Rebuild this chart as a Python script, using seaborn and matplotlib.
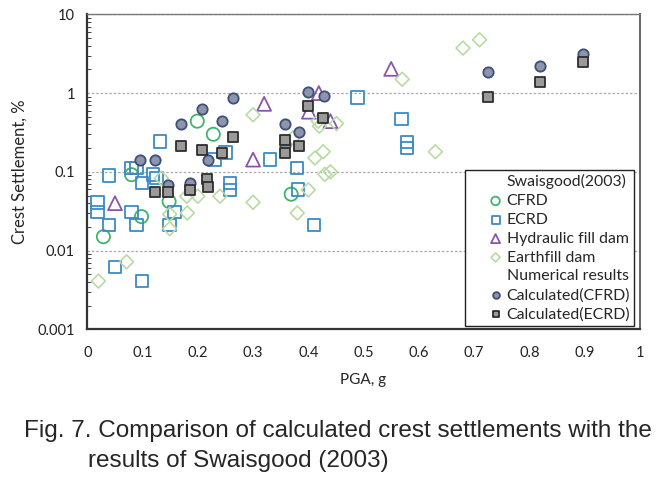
import numpy as np
import pandas as pd
import matplotlib
matplotlib.use("Agg")
import matplotlib.pyplot as plt
import seaborn as sns
from matplotlib.lines import Line2D

# Swaisgood (2003) case histories: PGA (g) vs crest settlement (%)
cfrd_pga = [0.029, 0.080, 0.098, 0.148, 0.199, 0.228, 0.369]
cfrd_set = [0.015, 0.092, 0.027, 0.042, 0.44, 0.30, 0.052]

ecrd_pga = [0.018, 0.018, 0.039, 0.039, 0.050, 0.080, 0.080, 0.089, 0.089, 0.099,
            0.099, 0.119, 0.125, 0.131, 0.149, 0.158, 0.230, 0.250, 0.258, 0.258,
            0.331, 0.379, 0.381, 0.410, 0.489, 0.569, 0.579, 0.579]
ecrd_set = [0.041, 0.031, 0.021, 0.090, 0.0062, 0.112, 0.031, 0.112, 0.021, 0.072,
            0.0041, 0.092, 0.083, 0.243, 0.021, 0.031, 0.143, 0.176, 0.072, 0.059,
            0.143, 0.112, 0.060, 0.021, 0.88, 0.47, 0.24, 0.20]

hyd_pga = [0.05, 0.30, 0.32, 0.401, 0.419, 0.44, 0.55]
hyd_set = [0.040, 0.143, 0.73, 0.58, 1.0, 0.44, 2.03]

earth_pga = [0.02, 0.071, 0.134, 0.149, 0.149, 0.18, 0.181, 0.20, 0.24, 0.30,
             0.30, 0.372, 0.38, 0.40, 0.412, 0.418, 0.42, 0.427, 0.43, 0.44,
             0.451, 0.57, 0.63, 0.68, 0.71]
earth_set = [0.0041, 0.0072, 0.083, 0.029, 0.019, 0.049, 0.030, 0.049, 0.049, 0.041,
             0.53, 0.27, 0.030, 0.059, 0.15, 0.44, 0.38, 0.18, 0.093, 0.10,
             0.41, 1.5, 0.18, 3.73, 4.75]

# numerical results
calc_cfrd_pga = [0.096, 0.122, 0.146, 0.169, 0.186, 0.208, 0.218, 0.243, 0.264,
                 0.357, 0.357, 0.383, 0.399, 0.428, 0.726, 0.820, 0.898]
calc_cfrd_set = [0.14, 0.14, 0.068, 0.40, 0.072, 0.63, 0.14, 0.44, 0.86,
                 0.40, 0.22, 0.32, 1.02, 0.91, 1.85, 2.18, 3.13]

calc_ecrd_pga = [0.122, 0.146, 0.169, 0.186, 0.207, 0.216, 0.218, 0.244, 0.264,
                 0.357, 0.357, 0.384, 0.400, 0.427, 0.726, 0.820, 0.898]
calc_ecrd_set = [0.055, 0.055, 0.216, 0.059, 0.19, 0.082, 0.064, 0.176, 0.277,
                 0.255, 0.176, 0.21, 0.68, 0.48, 0.88, 1.40, 2.50]

sns.set_style("white")
plt.rcParams['font.family'] = ['Lato', 'DejaVu Sans']

fig = plt.figure(figsize=(6.72, 4.78), dpi=100)
ax = fig.add_axes([0.130, 0.311, 0.822, 0.659])

sns.scatterplot(x=cfrd_pga, y=cfrd_set, ax=ax, marker='o', s=90, facecolor='none',
                edgecolor='#3db56a', linewidth=1.3, label='CFRD')
sns.scatterplot(x=ecrd_pga, y=ecrd_set, ax=ax, marker='s', s=80, facecolor='none',
                edgecolor='#3b8ac4', linewidth=1.3, label='ECRD')
sns.scatterplot(x=hyd_pga, y=hyd_set, ax=ax, marker='^', s=100, facecolor='none',
                edgecolor='#8a55ad', linewidth=1.3, label='Hydraulic fill dam')
sns.scatterplot(x=earth_pga, y=earth_set, ax=ax, marker='D', s=50, facecolor='none',
                edgecolor='#b9dba3', linewidth=1.2, label='Earthfill dam')
sns.scatterplot(x=calc_cfrd_pga, y=calc_cfrd_set, ax=ax, marker='o', s=55,
                facecolor='#8c95ab', edgecolor='#3f4f75', linewidth=1.3,
                label='Calculated(CFRD)')
sns.scatterplot(x=calc_ecrd_pga, y=calc_ecrd_set, ax=ax, marker='s', s=50,
                facecolor='#9a9a9a', edgecolor='#2e2e2e', linewidth=1.3,
                label='Calculated(ECRD)')

ax.set_yscale('log')
ax.set_xlim(0, 1)
ax.set_ylim(0.001, 10)
ax.set_xticks(np.arange(0, 1.01, 0.1))
ax.set_xticklabels(['0', '0.1', '0.2', '0.3', '0.4', '0.5', '0.6', '0.7', '0.8', '0.9', '1'])
ax.set_yticks([0.001, 0.01, 0.1, 1, 10])
ax.set_yticklabels(['0.001', '0.01', '0.1', '1', '10'])
ax.tick_params(axis='both', which='both', direction='in', labelsize=10.5, colors='#222222')
ax.tick_params(axis='x', length=4, pad=12)
ax.tick_params(axis='y', which='major', length=5, pad=9)
ax.tick_params(axis='y', which='minor', length=3, left=True)
ax.tick_params(top=False, right=False, which='both')
ax.yaxis.grid(True, which='major', linestyle=(0, (2, 1.5)), color='#aaaaaa', linewidth=0.9)
ax.xaxis.grid(False)

for side in ['left', 'bottom']:
    ax.spines[side].set_color('#333333')
    ax.spines[side].set_linewidth(1.6)
ax.spines['right'].set_color('#666666')
ax.spines['right'].set_linewidth(1.4)
ax.spines['top'].set_color('#777777')
ax.spines['top'].set_linewidth(1.0)
ax.spines['top'].set_linestyle((0, (2, 1)))

ax.set_xlabel('PGA, g', fontsize=11, labelpad=9)
ax.set_ylabel('Crest Settlement, %', fontsize=12, labelpad=7)

handles, labels = ax.get_legend_handles_labels()
blank = Line2D([], [], linestyle='none', marker=None)
leg_handles = [blank] + handles[:4] + [blank] + handles[4:]
leg_labels = ['Swaisgood(2003)'] + labels[:4] + ['Numerical results'] + labels[4:]
leg = ax.legend(leg_handles, leg_labels, loc='lower right', bbox_to_anchor=(0.99, 0.012),
                fontsize=11.4, frameon=True, fancybox=False, edgecolor='#222222',
                framealpha=1, markerscale=0.65, handlelength=3.4, handletextpad=-1.0,
                labelspacing=0.3, borderpad=0.25, borderaxespad=0)
leg.get_frame().set_linewidth(1.0)

fig.text(0.036, 0.085, 'Fig. 7. Comparison of calculated crest settlements with the',
         fontsize=17.5, family='Liberation Sans')
fig.text(0.131, 0.022, 'results of Swaisgood (2003)', fontsize=17.5, family='Liberation Sans')

fig.savefig('out.png', dpi=100)
